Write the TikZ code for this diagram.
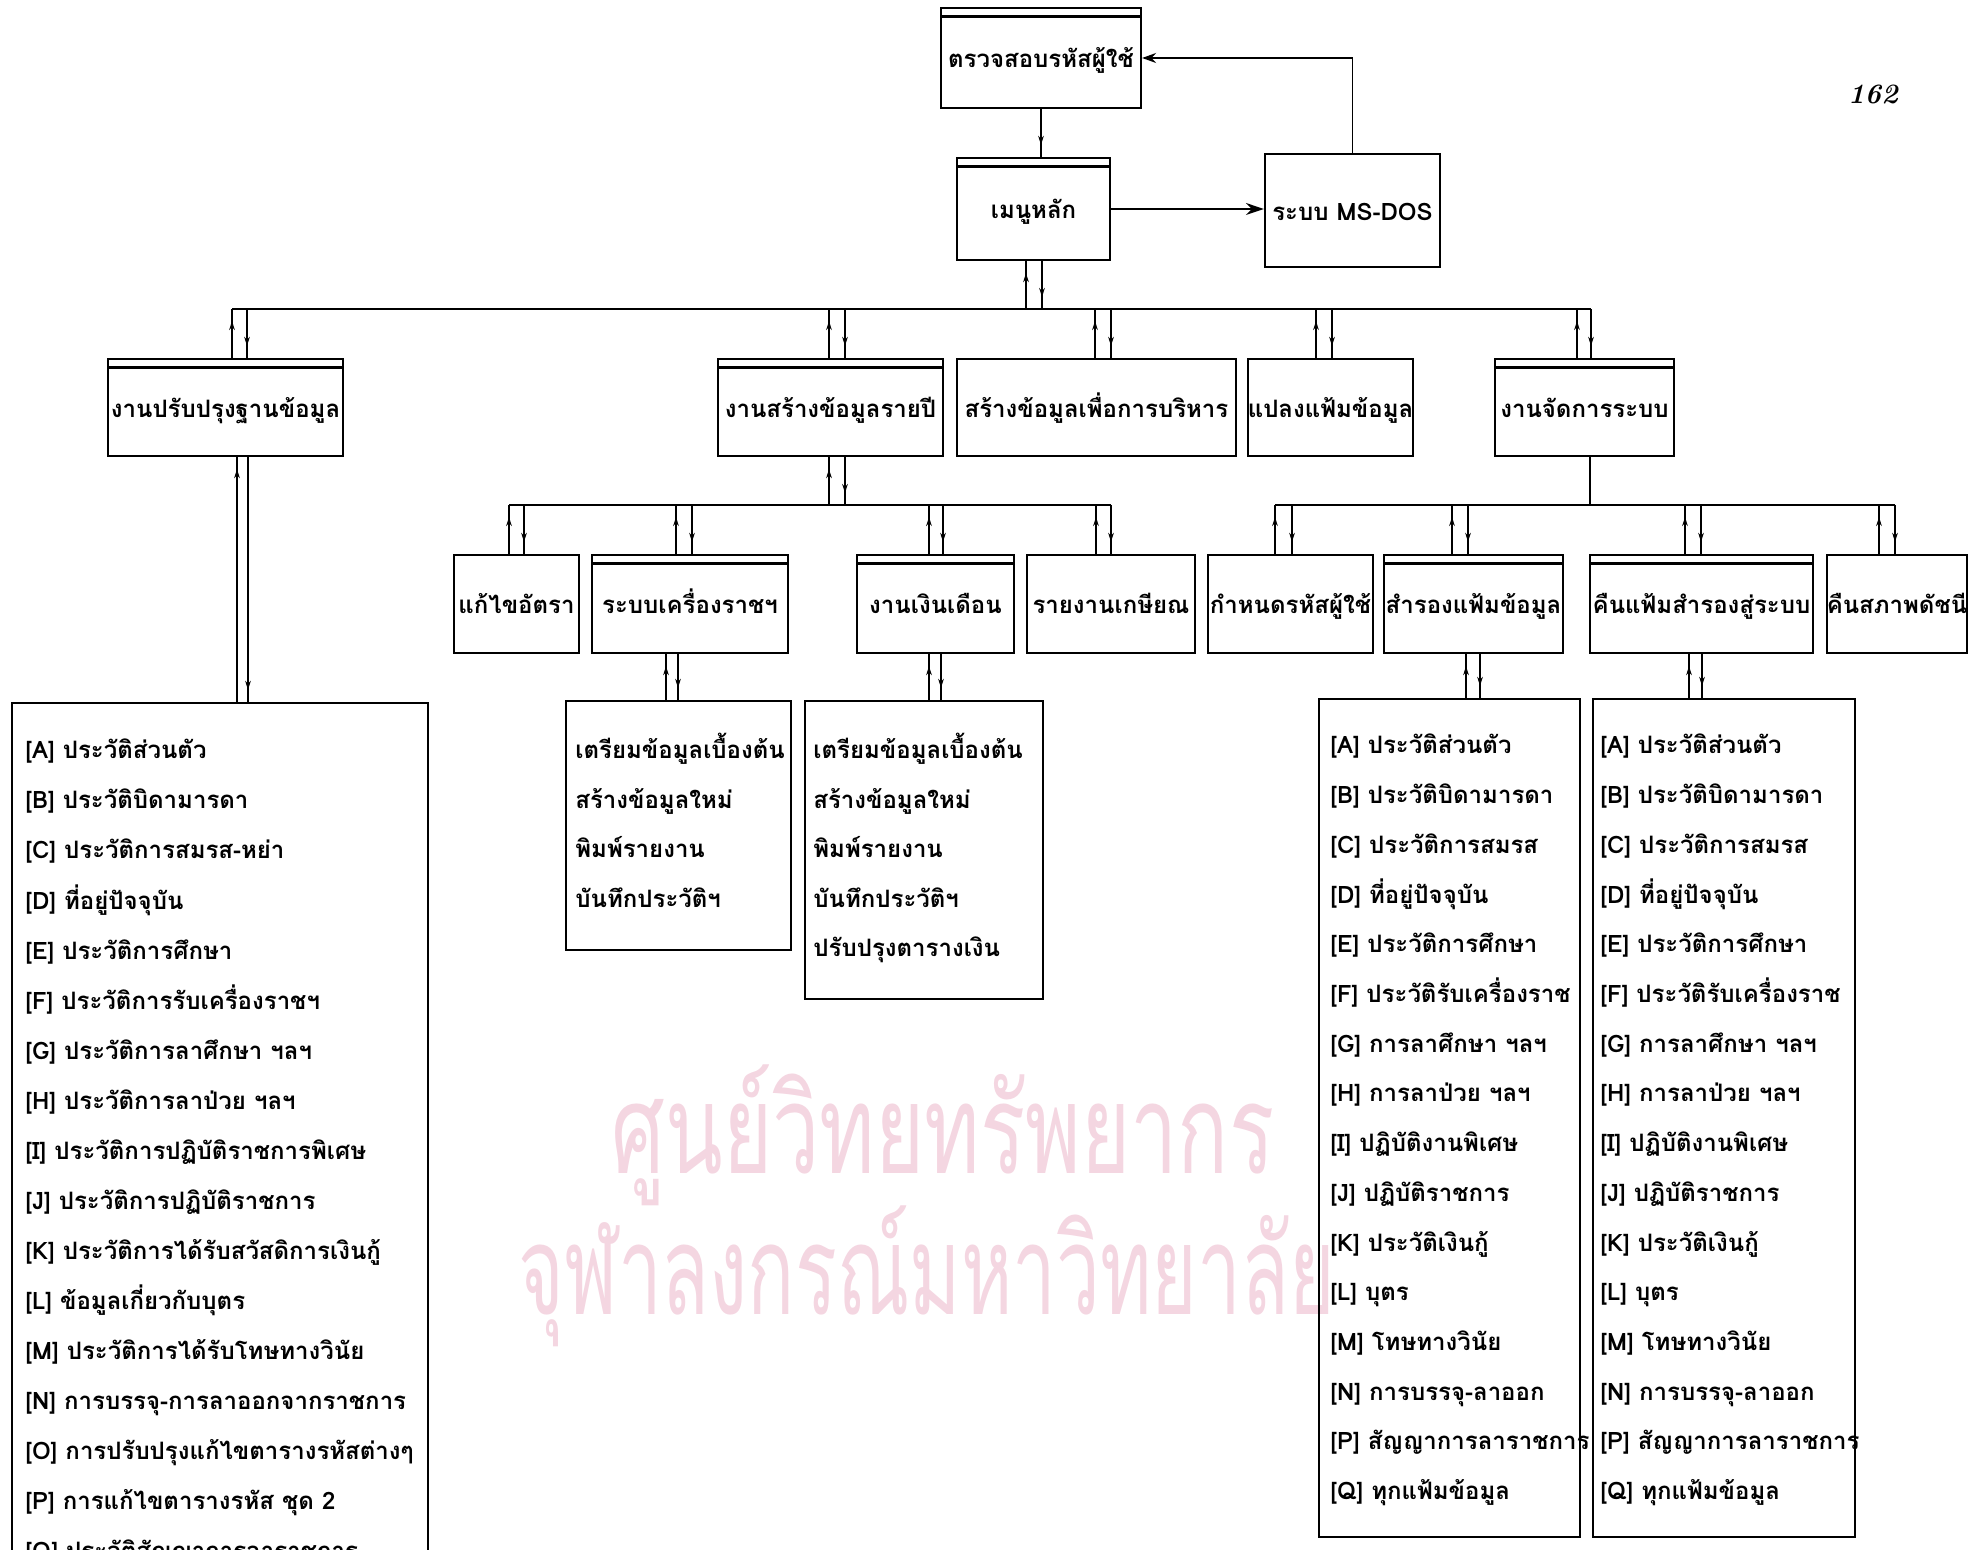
\documentclass[tikz,border=0pt]{standalone}
\usepackage{fontspec}
\newfontfamily\thai[Script=Thai]{Loma}
\usetikzlibrary{fit,arrows.meta,decorations.markings}
\definecolor{wmpink}{RGB}{244,214,225}
\tikzset{
  tx/.style={font=\thai\bfseries\fontsize{12}{14}\selectfont},
  box/.style={draw, line width=1.1pt, inner sep=0pt},
  lbl/.style={tx, anchor=base, inner sep=0pt},
  dbl/.style={path picture={\draw[line width=1.1pt]
      ([yshift=-4.3pt]path picture bounding box.north west) --
      ([yshift=-4.3pt]path picture bounding box.north east);}},
  wire/.style={line width=0.9pt},
  tick/.style={wire, postaction={decorate}, decoration={markings,
      mark=at position -6pt with {\arrow{Stealth[length=4.5pt,width=2.8pt]}}}},
  lst/.style={tx, anchor=base west, inner sep=0pt},
}
\begin{document}
\begin{tikzpicture}[x=0.5pt,y=-0.5pt]
\useasboundingbox (0,0) rectangle (1971,1550);

% watermark
\node[text=wmpink, font=\thai\fontsize{62}{70}\selectfont] (wm1) at (943,1135) {\scalebox{0.68}[1]{ศูนย์วิทยทรัพยากร}};
\node[text=wmpink, font=\thai\fontsize{62}{70}\selectfont] (wm2) at (927,1276) {\scalebox{0.63}[1]{จุฬาลงกรณ์มหาวิทยาลัย}};

% page number
\node[font=\bfseries\itshape\fontsize{14}{16}\selectfont] (pg) at (1873,94) {162};

% top level
\node[box, dbl, fit={(941,8) (1141,108)}] (top) {};
\node[box, dbl, fit={(957,158) (1110,260)}] (menu) {};
\node[box, fit={(1265,154) (1440,267)}] (msdos) {};

% level 1
\node[box, dbl, fit={(108,359) (343,456)}] (c1) {};
\node[box, dbl, fit={(718,359) (943,456)}] (c2) {};
\node[box, fit={(957,359) (1236,456)}] (c3) {};
\node[box, fit={(1248,359) (1413,456)}] (c4) {};
\node[box, dbl, fit={(1495,359) (1674,456)}] (c5) {};

% level 2
\node[box, fit={(454,555) (579,653)}] (d1) {};
\node[box, dbl, fit={(592,555) (788,653)}] (d2) {};
\node[box, dbl, fit={(857,555) (1014,653)}] (d3) {};
\node[box, fit={(1027,555) (1195,653)}] (d4) {};
\node[box, fit={(1208,555) (1373,653)}] (e1) {};
\node[box, dbl, fit={(1384,555) (1563,653)}] (e2) {};
\node[box, dbl, fit={(1590,555) (1813,653)}] (e3) {};
\node[box, fit={(1827,555) (1967,653)}] (e4) {};

% box labels
\foreach \n/\t in {top/ตรวจสอบรหัสผู้ใช้, menu/เมนูหลัก, msdos/ระบบ MS-DOS,
    c1/งานปรับปรุงฐานข้อมูล, c2/งานสร้างข้อมูลรายปี, c3/สร้างข้อมูลเพื่อการบริหาร,
    c4/แปลงแฟ้มข้อมูล, c5/งานจัดการระบบ, d1/แก้ไขอัตรา, d2/ระบบเครื่องราชฯ,
    d3/งานเงินเดือน, d4/รายงานเกษียณ, e1/กำหนดรหัสผู้ใช้, e2/สำรองแฟ้มข้อมูล,
    e3/คืนแฟ้มสำรองสู่ระบบ, e4/คืนสภาพดัชนี} {
  \node[lbl] (\n-t) at ([yshift=-5pt]\n.center) {\t};
}

% level 3 boxes
\node[box, fit={(12,703) (428,1640)}] (l0) {};
\node[box, fit={(566,701) (791,950)}] (f1) {};
\node[box, fit={(805,701) (1043,999)}] (f2) {};
\node[box, fit={(1319,699) (1580,1537)}] (g1) {};
\node[box, fit={(1593,699) (1855,1537)}] (g2) {};

% top connectors
\draw[tick] (top.south) -- (top.south |- menu.north);
\draw[wire, -{Stealth[length=9pt,width=6pt]}] (menu.east) -- (menu.east -| msdos.west);
\draw[wire, -{Stealth[length=7pt,width=5pt]}] (msdos.north) |- (top.east);

% bus 1 (from menu)
\coordinate (m-u) at (1026,309);
\coordinate (m-d) at (1042,309);
\draw[tick] (m-u) -- (m-u |- menu.south);
\draw[tick] (m-d |- menu.south) -- (m-d);
\foreach \n/\a/\b in {c1/232/247, c2/829/845, c3/1095/1111, c4/1316/1332, c5/1577/1591} {
  \coordinate (\n-u) at (\a,309);
  \coordinate (\n-d) at (\b,309);
  \draw[tick] (\n-u |- \n.north) -- (\n-u);
  \draw[tick] (\n-d) -- (\n-d |- \n.north);
}
\draw[wire] (c1-u) -- (c5-d);

% bus 2 (from c2)
\coordinate (c2-bu) at (829,505);
\coordinate (c2-bd) at (845,505);
\draw[tick] (c2-bu) -- (c2-bu |- c2.south);
\draw[tick] (c2-bd |- c2.south) -- (c2-bd);
\foreach \n/\a/\b in {d1/509/524, d2/676/692, d3/929/943, d4/1096/1111} {
  \coordinate (\n-u) at (\a,505);
  \coordinate (\n-d) at (\b,505);
  \draw[tick] (\n-u |- \n.north) -- (\n-u);
  \draw[tick] (\n-d) -- (\n-d |- \n.north);
}
\draw[wire] (d1-u) -- (d4-d);

% bus 3 (from c5)
\coordinate (c5-b) at (1590,505);
\draw[wire] (c5-b |- c5.south) -- (c5-b);
\foreach \n/\a/\b in {e1/1275/1292, e2/1452/1468, e3/1685/1701, e4/1879/1895} {
  \coordinate (\n-u) at (\a,505);
  \coordinate (\n-d) at (\b,505);
  \draw[tick] (\n-u |- \n.north) -- (\n-u);
  \draw[tick] (\n-d) -- (\n-d |- \n.north);
}
\draw[wire] (e1-u) -- (e4-d);

% level 3 links
\foreach \p/\c/\a/\b in {c1/l0/237/248, d2/f1/666/678, d3/f2/929/941, e2/g1/1466/1480, e3/g2/1689/1702} {
  \coordinate (\c-u) at (\a,0);
  \coordinate (\c-d) at (\b,0);
  \draw[tick] (\c-u |- \c.north) -- (\c-u |- \p.south);
  \draw[tick] (\c-d |- \p.south) -- (\c-d |- \c.north);
}

% list texts
\foreach \t [count=\i from 0] in {{[A] ประวัติส่วนตัว},{[B] ประวัติบิดามารดา},{[C] ประวัติการสมรส-หย่า},{[D] ที่อยู่ปัจจุบัน},{[E] ประวัติการศึกษา},{[F] ประวัติการรับเครื่องราชฯ},{[G] ประวัติการลาศึกษา ฯลฯ},{[H] ประวัติการลาป่วย ฯลฯ},{[I] ประวัติการปฏิบัติราชการพิเศษ},{[J] ประวัติการปฏิบัติราชการ},{[K] ประวัติการได้รับสวัสดิการเงินกู้},{[L] ข้อมูลเกี่ยวกับบุตร},{[M] ประวัติการได้รับโทษทางวินัย},{[N] การบรรจุ-การลาออกจากราชการ},{[O] การปรับปรุงแก้ไขตารางรหัสต่างๆ},{[P] การแก้ไขตารางรหัส ชุด 2},{[Q] ประวัติสัญญาการลาราชการ}} {
  \node[lst] (l0t\i) at (25,{759+50*\i}) {\t};
}
\foreach \t [count=\i from 0] in {เตรียมข้อมูลเบื้องต้น,สร้างข้อมูลใหม่,พิมพ์รายงาน,บันทึกประวัติฯ} {
  \node[lst] (f1t\i) at (575,{759+49.5*\i}) {\t};
}
\foreach \t [count=\i from 0] in {เตรียมข้อมูลเบื้องต้น,สร้างข้อมูลใหม่,พิมพ์รายงาน,บันทึกประวัติฯ,ปรับปรุงตารางเงิน} {
  \node[lst] (f2t\i) at (813,{759+49.5*\i}) {\t};
}
\foreach \t [count=\i from 0] in {{[A] ประวัติส่วนตัว},{[B] ประวัติบิดามารดา},{[C] ประวัติการสมรส},{[D] ที่อยู่ปัจจุบัน},{[E] ประวัติการศึกษา},{[F] ประวัติรับเครื่องราช},{[G] การลาศึกษา ฯลฯ},{[H] การลาป่วย ฯลฯ},{[I] ปฏิบัติงานพิเศษ},{[J] ปฏิบัติราชการ},{[K] ประวัติเงินกู้},{[L] บุตร},{[M] โทษทางวินัย},{[N] การบรรจุ-ลาออก},{[P] สัญญาการลาราชการ},{[Q] ทุกแฟ้มข้อมูล}} {
  \node[lst] (g1t\i) at (1330,{754+49.7*\i}) {\t};
  \node[lst] (g2t\i) at (1600,{754+49.7*\i}) {\t};
}
\end{tikzpicture}
\end{document}
